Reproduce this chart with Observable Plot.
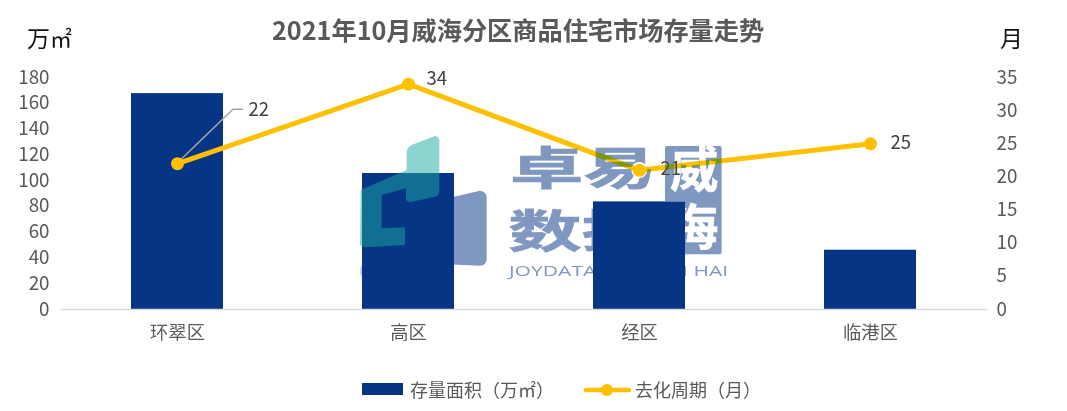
<!DOCTYPE html>
<html><head><meta charset="utf-8">
<script src="https://cdn.jsdelivr.net/npm/d3@7"></script>
<script src="https://cdn.jsdelivr.net/npm/@observablehq/plot@0.6"></script>
<style>
html,body{margin:0;padding:0;background:#fff;overflow:hidden}
#wrap{position:relative;width:1067px;height:411px;font-family:"Noto Sans CJK SC","Noto Sans",sans-serif}
#chart svg{display:block;position:absolute;left:0;top:0;background:transparent}
.t{position:absolute;white-space:nowrap;line-height:1}
#overlay{position:absolute;left:0;top:0;pointer-events:none}
</style></head><body>
<div id="wrap">
<div id="chart"></div>
<div class="t" style="left:272px;top:17px;font-size:25.2px;font-weight:700;color:#595959">2021年10月威海分区商品住宅市场存量走势</div>
<div class="t" style="left:27px;top:26px;font-size:23px;color:#111">万<span style="font-size:22px">㎡</span></div>
<div class="t" style="left:1000px;top:26px;font-size:23px;color:#111">月</div>
<div style="position:absolute;left:362px;top:383px;width:41px;height:12px;background:#063585"></div>
<div class="t" style="left:410px;top:380px;font-size:18px;color:#595959">存量面积（万㎡）</div>
<svg style="position:absolute;left:580px;top:380px" width="55" height="20"><line x1="6" x2="49" y1="10" y2="10" stroke="#ffc000" stroke-width="4.5" stroke-linecap="round"/><circle cx="27" cy="10" r="6" fill="#ffc000"/></svg>
<div class="t" style="left:635px;top:380px;font-size:18px;color:#595959">去化周期（月）</div>
<svg id="overlay" width="1067" height="411">
  <g transform="translate(340,120) scale(.3333)">
    <g style="mix-blend-mode:darken">
      <path d="M200 280L300 240L420 212Q440 215 440 232V420Q438 436 420 437L300 432V310L200 310Z" fill="#8098bf"/>
      <path d="M72 432L290 432Q302 434 302 445V470Q300 480 290 480L75 478Q60 470 60 455Q60 436 72 432Z" fill="#c5d0e2"/>
      <rect x="975" y="78" width="170" height="325" rx="6" fill="#8098bf"/>
      <text x="510" y="195" font-size="135" font-weight="700" fill="#8098bf" textLength="440" lengthAdjust="spacingAndGlyphs" stroke="#8098bf" stroke-width="2">卓易</text>
      <text x="505" y="383" font-size="135" font-weight="700" fill="#8098bf" textLength="440" lengthAdjust="spacingAndGlyphs" stroke="#8098bf" stroke-width="2">数据</text>
      <text x="990" y="200" font-size="145" font-weight="700" fill="#fff" stroke="#fff" stroke-width="2">威</text>
      <text x="990" y="376" font-size="145" font-weight="700" fill="#fff" stroke="#fff" stroke-width="2">海</text>
      <text x="507" y="468" font-size="42" fill="#8098bf" textLength="658" lengthAdjust="spacingAndGlyphs" font-family="'Open Sans',sans-serif">JOYDATAINFO WEI HAI</text>
      <circle cx="898" cy="150" r="24" fill="#fff"/>
    </g>
    <path d="M285 48Q298 50 298 62V215Q296 228 285 230L210 247Q198 245 198 235V205L125 225V325L195 322V375L72 382Q60 380 60 370L62 210L200 150V95Q202 82 215 75Z" fill="rgb(26,170,162)" opacity=".5"/>
  </g>
</svg>
</div>
<script>
const districts = ["环翠区", "高区", "经区", "临港区"];
const stockArea = [167.5, 105.5, 83.5, 46];
const cycleMonths = [22, 34, 21, 25];
const leftTicks = [0, 20, 40, 60, 80, 100, 120, 140, 160, 180];
const rightTicks = [0, 5, 10, 15, 20, 25, 30, 35];
const labelDx = [71, 18, 21, 20];
const labelDy = [-54, -5, -1, -1];

const areaMax = 180, monthMax = 35;
const toY = m => m * areaMax / monthMax;
const rows = districts.map((d, i) => ({d, area: stockArea[i], m: cycleMonths[i], my: toY(cycleMonths[i]), dx: labelDx[i], dy: labelDy[i]}));
const fontF = '"Noto Sans CJK SC","Noto Sans",sans-serif';

const leader = (index, {x, y}) => {
  const r = rows[0];
  const cx = x(r.d) + x.bandwidth() / 2, cy = y(r.my);
  const p = document.createElementNS("http://www.w3.org/2000/svg", "path");
  p.setAttribute("d", `M${cx},${cy}L${cx + 56},${cy - 54}H${cx + 66}`);
  p.setAttribute("fill", "none");
  p.setAttribute("stroke", "#a6a6a6");
  p.setAttribute("stroke-width", "1.5");
  return p;
};

const plot = Plot.plot({
  width: 1067, height: 411,
  marginTop: 77, marginBottom: 102, marginLeft: 61, marginRight: 80,
  style: {fontFamily: fontF, background: "transparent", overflow: "visible"},
  x: {domain: districts, paddingInner: 0.6, paddingOuter: 0.3, label: null},
  y: {domain: [0, areaMax], label: null},
  marks: [
    Plot.barY(rows, {x: "d", y: "area", fill: "#063585"}),
    Plot.ruleY([0], {stroke: "#d9d9d9", strokeWidth: 1.5}),
    Plot.axisX({anchor: "bottom", tickSize: 0, tickPadding: 16, fontSize: 18.3, color: "#595959", label: null}),
    Plot.axisY({anchor: "left", ticks: leftTicks, tickSize: 0, tickPadding: 12, fontSize: 18.8, color: "#595959", label: null}),
    Plot.axisY({anchor: "right", ticks: rightTicks.map(toY), tickFormat: v => String(Math.round(v * monthMax / areaMax)), tickSize: 0, tickPadding: 9, fontSize: 18.8, color: "#595959", label: null}),
    leader,
    Plot.line(rows, {x: "d", y: "my", stroke: "#ffc000", strokeWidth: 5}),
    Plot.dot(rows, {x: "d", y: "my", r: 6.5, fill: "#ffc000"}),
    ...rows.map(r => Plot.text([r], {x: "d", y: "my", text: d => String(d.m), textAnchor: "start", dx: r.dx, dy: r.dy, fontSize: 18.5, fill: "#404040"}))
  ]
});
document.getElementById("chart").appendChild(plot);
</script>
</body></html>
